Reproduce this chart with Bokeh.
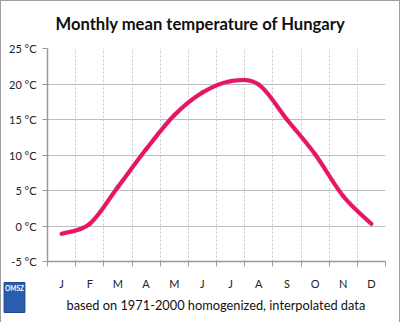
from bokeh.plotting import figure
from bokeh.models import FixedTicker, Label, Title, ColumnDataSource, Range1d
from bokeh.embed import file_html
from bokeh.resources import INLINE

months = ["J", "F", "M", "A", "M", "J", "J", "A", "S", "O", "N", "D"]
temps = [-1.1, 0.3, 5.5, 10.8, 15.6, 18.8, 20.4, 19.9, 15.0, 10.1, 4.2, 0.3]
y_ticks = [-5, 0, 5, 10, 15, 20, 25]
title_text = "Monthly mean temperature of Hungary"
footer_text = "based on 1971-2000  homogenized, interpolated data"

xs = [i + 0.5 for i in range(len(months))]

# smoothed line (Excel-style: cubic Bezier segments through every data point)
n = len(xs)
seg = dict(x0=[], y0=[], x1=[], y1=[], cx0=[], cy0=[], cx1=[], cy1=[])
for i in range(n - 1):
    a = max(i - 1, 0)
    d = min(i + 2, n - 1)
    seg["x0"].append(xs[i]); seg["y0"].append(temps[i])
    seg["x1"].append(xs[i + 1]); seg["y1"].append(temps[i + 1])
    seg["cx0"].append(xs[i] + (xs[i + 1] - xs[a]) / 6)
    seg["cy0"].append(temps[i] + (temps[i + 1] - temps[a]) / 6)
    seg["cx1"].append(xs[i + 1] - (xs[d] - xs[i]) / 6)
    seg["cy1"].append(temps[i + 1] - (temps[d] - temps[i]) / 6)
src = ColumnDataSource(seg)

FW, FH = 338, 213
p = figure(width=400, height=322, output_backend="svg", toolbar_location=None,
           x_range=Range1d(0, 12), y_range=Range1d(-5, 25),
           frame_width=FW, frame_height=FH,
           min_border_left=47, min_border_right=15, min_border_top=48, min_border_bottom=61)
p.outline_line_color = None
p.background_fill_color = "white"
p.border_fill_color = None
p.styles = {"outline": "1px solid #a0a0a0", "outline-offset": "-1px", "background-color": "white"}

p.title = Title(text=title_text, align="left", offset=8, vertical_align="top", standoff=26,
                text_font="Lato", text_font_style="bold", text_font_size="16.6px",
                text_color="#111111")
p.add_layout(Title(text=footer_text, align="left", offset=19, standoff=4,
                   text_font="Lato", text_font_style="normal", text_font_size="12.8px",
                   text_color="#111111"), "below")

# x axis
p.xaxis.ticker = FixedTicker(ticks=xs, minor_ticks=list(range(13)))
p.xaxis.major_label_overrides = {x: m for x, m in zip(xs, months)}
p.xaxis.major_tick_line_color = None
p.xaxis.minor_tick_in = 0
p.xaxis.minor_tick_out = 5
p.xaxis.minor_tick_line_color = "#9a9a9a"
p.xaxis.axis_line_color = "#9a9a9a"
p.xaxis.axis_line_width = 1.5
p.xaxis.major_label_text_font = "Lato"
p.xaxis.major_label_text_font_size = "11px"
p.xaxis.major_label_text_color = "#222222"
p.xaxis.major_label_standoff = 9

# y axis
p.yaxis.ticker = FixedTicker(ticks=y_ticks, minor_ticks=[])
p.yaxis.major_label_overrides = {v: f"{v} °C" for v in y_ticks}
p.yaxis.major_tick_in = 0
p.yaxis.major_tick_out = 5
p.yaxis.major_tick_line_color = "#9a9a9a"
p.yaxis.axis_line_color = "#9a9a9a"
p.yaxis.axis_line_width = 1.5
p.yaxis.major_label_text_font = "Lato"
p.yaxis.major_label_text_font_size = "11px"
p.yaxis.major_label_text_color = "#222222"
p.yaxis.major_label_standoff = 6

# grids
p.xgrid.ticker = FixedTicker(ticks=list(range(1, 13)))
p.xgrid.grid_line_color = "#c8c8c8"
p.xgrid.grid_line_dash = "2 2"
p.ygrid.ticker = FixedTicker(ticks=y_ticks[1:])
p.ygrid.grid_line_color = "#bdbdbd"

# soft shadow, then the line
p.bezier(x0="x0", y0="y0", x1="x1", y1="y1", cx0="cx0", cy0="cy0", cx1="cx1", cy1="cy1",
         source=src, line_color="#b0b0b0", line_width=5, line_alpha=0.35, line_cap="round")
p.bezier(x0="x0", y0="y0", x1="x1", y1="y1", cx0="cx0", cy0="cy0", cx1="cx1", cy1="cy1",
         source=src, line_color="#ea1466", line_width=4, line_cap="round")

# OMSZ logo badge
p.add_layout(Label(x=-33, y=62, x_units="screen", y_units="screen", text="OMSZ",
                   text_font="Lato", text_font_style="bold", text_font_size="6.5px",
                   text_align="center", text_baseline="top", text_color="white",
                   background_fill_color="#2a5db0", border_line_color="#1f4a94",
                   padding=(1, 1, 2, 21)), "below")

open("out.html", "w").write(file_html(p, INLINE))
